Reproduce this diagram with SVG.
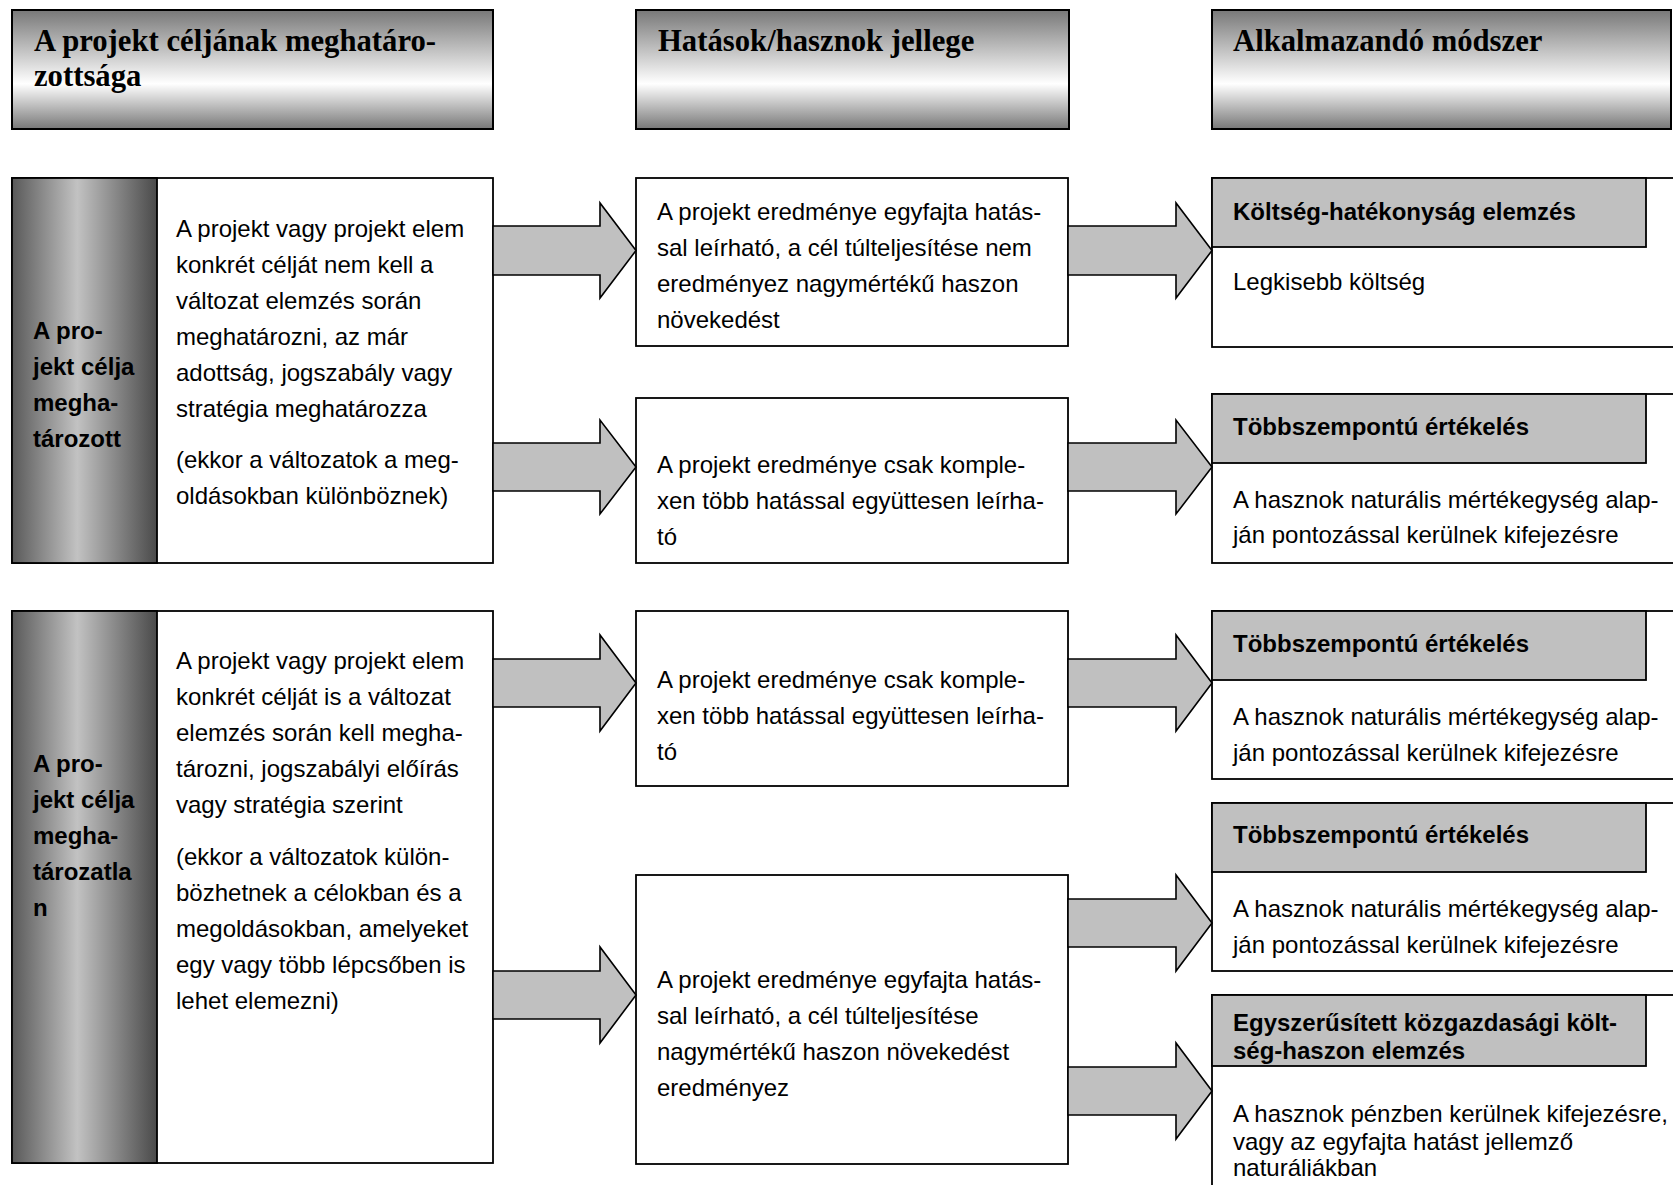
<svg xmlns="http://www.w3.org/2000/svg" width="1673" height="1185" viewBox="0 0 1673 1185">
<defs>
<linearGradient id="hdrGrad" x1="0" y1="0" x2="0" y2="1">
<stop offset="0" stop-color="#787878"/>
<stop offset="0.62" stop-color="#ffffff"/>
<stop offset="1" stop-color="#787878"/>
</linearGradient>
<linearGradient id="sideGrad" x1="0" y1="0" x2="1" y2="0">
<stop offset="0" stop-color="#595959"/>
<stop offset="0.45" stop-color="#c2c2c2"/>
<stop offset="1" stop-color="#4a4a4a"/>
</linearGradient>
<clipPath id="clipR5"><rect x="1212" y="995" width="434" height="69"/></clipPath>
</defs>
<style>
.hdr{fill:url(#hdrGrad);stroke:#000;stroke-width:2}
.box{fill:#fff;stroke:#000;stroke-width:1.8}
.side{fill:url(#sideGrad);stroke:#000;stroke-width:1.8}
.ghead{fill:#c0c0c0;stroke:#000;stroke-width:1.8}
.arrow{fill:#c0c0c0;stroke:#000;stroke-width:1.6;stroke-linejoin:miter}
.ht{font-family:"Liberation Serif","Times New Roman",serif;font-weight:bold;font-size:30.7px;fill:#000}
.t{font-family:"Liberation Sans",Arial,sans-serif;font-size:24px;fill:#000}
.b{font-family:"Liberation Sans",Arial,sans-serif;font-size:24px;font-weight:bold;fill:#000}
</style>
<rect width="1673" height="1185" fill="#fff"/>

<g id="header1">
<rect class="hdr" x="12" y="10" width="481" height="119"/>
<text class="ht" x="34" y="51">A projekt céljának meghatáro-</text>
<text class="ht" x="34" y="86">zottsága</text>
</g>
<g id="header2">
<rect class="hdr" x="636" y="10" width="433" height="119"/>
<text class="ht" x="658" y="51">Hatások/hasznok jellege</text>
</g>
<g id="header3">
<rect class="hdr" x="1212" y="10" width="459" height="119"/>
<text class="ht" x="1233" y="51">Alkalmazandó módszer</text>
</g>

<g id="left1">
<rect class="box" x="12" y="178" width="481" height="385"/>
<rect class="side" x="12" y="178" width="145" height="385"/>
<text class="b" x="33" y="339">A pro-</text>
<text class="b" x="33" y="375">jekt célja</text>
<text class="b" x="33" y="411">megha-</text>
<text class="b" x="33" y="447">tározott</text>
<text class="t" x="176" y="237">A projekt vagy projekt elem</text>
<text class="t" x="176" y="273">konkrét célját nem kell a</text>
<text class="t" x="176" y="309">változat elemzés során</text>
<text class="t" x="176" y="345">meghatározni, az már</text>
<text class="t" x="176" y="381">adottság, jogszabály vagy</text>
<text class="t" x="176" y="417">stratégia meghatározza</text>
<text class="t" x="176" y="468">(ekkor a változatok a meg-</text>
<text class="t" x="176" y="504">oldásokban különböznek)</text>
</g>

<g id="left2">
<rect class="box" x="12" y="611" width="481" height="552"/>
<rect class="side" x="12" y="611" width="145" height="552"/>
<text class="b" x="33" y="772">A pro-</text>
<text class="b" x="33" y="808">jekt célja</text>
<text class="b" x="33" y="844">megha-</text>
<text class="b" x="33" y="880">tározatla</text>
<text class="b" x="33" y="916">n</text>
<text class="t" x="176" y="669">A projekt vagy projekt elem</text>
<text class="t" x="176" y="705">konkrét célját is a változat</text>
<text class="t" x="176" y="741">elemzés során kell megha-</text>
<text class="t" x="176" y="777">tározni, jogszabályi előírás</text>
<text class="t" x="176" y="813">vagy stratégia szerint</text>
<text class="t" x="176" y="865">(ekkor a változatok külön-</text>
<text class="t" x="176" y="901">bözhetnek a célokban és a</text>
<text class="t" x="176" y="937">megoldásokban, amelyeket</text>
<text class="t" x="176" y="973">egy vagy több lépcsőben is</text>
<text class="t" x="176" y="1009">lehet elemezni)</text>
</g>

<g id="mid1">
<rect class="box" x="636" y="178" width="432" height="168"/>
<text class="t" x="657" y="220">A projekt eredménye egyfajta hatás-</text>
<text class="t" x="657" y="256">sal leírható, a cél túlteljesítése nem</text>
<text class="t" x="657" y="292">eredményez nagymértékű haszon</text>
<text class="t" x="657" y="328">növekedést</text>
</g>
<g id="mid2">
<rect class="box" x="636" y="398" width="432" height="165"/>
<text class="t" x="657" y="473">A projekt eredménye csak komple-</text>
<text class="t" x="657" y="509">xen több hatással együttesen leírha-</text>
<text class="t" x="657" y="545">tó</text>
</g>
<g id="mid3">
<rect class="box" x="636" y="611" width="432" height="175"/>
<text class="t" x="657" y="688">A projekt eredménye csak komple-</text>
<text class="t" x="657" y="724">xen több hatással együttesen leírha-</text>
<text class="t" x="657" y="760">tó</text>
</g>
<g id="mid4">
<rect class="box" x="636" y="875" width="432" height="289"/>
<text class="t" x="657" y="988">A projekt eredménye egyfajta hatás-</text>
<text class="t" x="657" y="1024">sal leírható, a cél túlteljesítése</text>
<text class="t" x="657" y="1060">nagymértékű haszon növekedést</text>
<text class="t" x="657" y="1096">eredményez</text>
</g>

<g id="right1">
<rect class="box" x="1212" y="178" width="470" height="169"/>
<rect class="ghead" x="1212" y="178" width="434" height="69"/>
<text class="b" x="1233" y="220">Költség-hatékonyság elemzés</text>
<text class="t" x="1233" y="290">Legkisebb költség</text>
</g>
<g id="right2">
<rect class="box" x="1212" y="394" width="470" height="169"/>
<rect class="ghead" x="1212" y="394" width="434" height="69"/>
<text class="b" x="1233" y="435">Többszempontú értékelés</text>
<text class="t" x="1233" y="508">A hasznok naturális mértékegység alap-</text>
<text class="t" x="1233" y="543">ján pontozással kerülnek kifejezésre</text>
</g>
<g id="right3">
<rect class="box" x="1212" y="611" width="470" height="168"/>
<rect class="ghead" x="1212" y="611" width="434" height="69"/>
<text class="b" x="1233" y="652">Többszempontú értékelés</text>
<text class="t" x="1233" y="725">A hasznok naturális mértékegység alap-</text>
<text class="t" x="1233" y="761">ján pontozással kerülnek kifejezésre</text>
</g>
<g id="right4">
<rect class="box" x="1212" y="803" width="470" height="168"/>
<rect class="ghead" x="1212" y="803" width="434" height="69"/>
<text class="b" x="1233" y="843">Többszempontú értékelés</text>
<text class="t" x="1233" y="917">A hasznok naturális mértékegység alap-</text>
<text class="t" x="1233" y="953">ján pontozással kerülnek kifejezésre</text>
</g>
<g id="right5">
<rect class="box" x="1212" y="995" width="470" height="200"/>
<rect x="1212" y="995" width="434" height="71" fill="#c0c0c0"/>
<g clip-path="url(#clipR5)">
<text class="b" x="1233" y="1031">Egyszerűsített közgazdasági költ-</text>
<text class="b" x="1233" y="1059">ség-haszon elemzés</text>
</g>
<rect x="1212" y="995" width="434" height="71" fill="none" stroke="#000" stroke-width="1.8"/>
<text class="t" x="1233" y="1122">A hasznok pénzben kerülnek kifejezésre,</text>
<text class="t" x="1233" y="1150">vagy az egyfajta hatást jellemző</text>
<text class="t" x="1233" y="1176">naturáliákban</text>
</g>

<g id="connectors">
<polygon class="arrow" points="493,226 600,226 600,203 636,250.5 600,298 600,275 493,275"/>
<polygon class="arrow" points="493,443 600,443 600,420 636,467 600,514 600,491 493,491"/>
<polygon class="arrow" points="1068,226 1176,226 1176,203 1212,250.5 1176,298 1176,275 1068,275"/>
<polygon class="arrow" points="1068,443 1176,443 1176,420 1212,467 1176,514 1176,491 1068,491"/>
<polygon class="arrow" points="493,659 600,659 600,635 636,683 600,731 600,707 493,707"/>
<polygon class="arrow" points="493,971 600,971 600,947 636,995 600,1043 600,1019 493,1019"/>
<polygon class="arrow" points="1068,659 1176,659 1176,635 1212,683 1176,731 1176,707 1068,707"/>
<polygon class="arrow" points="1068,899 1176,899 1176,875 1212,923 1176,971 1176,947 1068,947"/>
<polygon class="arrow" points="1068,1067 1176,1067 1176,1043 1212,1091 1176,1139 1176,1115 1068,1115"/>
</g>
</svg>
